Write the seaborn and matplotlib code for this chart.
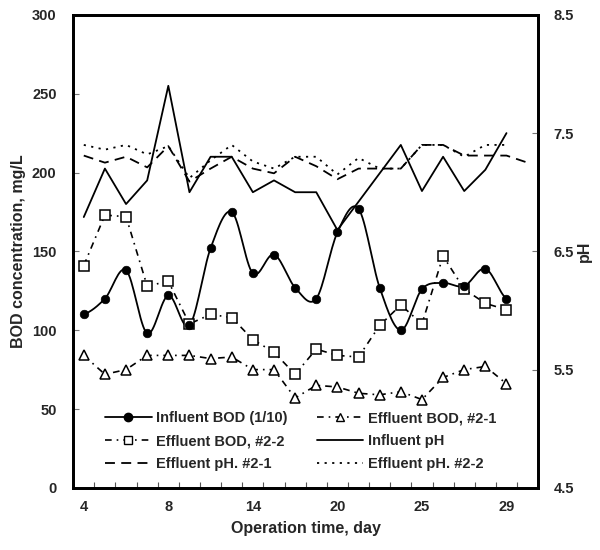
import numpy as np
import pandas as pd
import matplotlib
matplotlib.use('Agg')
import matplotlib.pyplot as plt
from matplotlib.lines import Line2D
import seaborn as sns

# tick labels on the category axis (every 4th sampling)
day_labels = ['4', '8', '14', '20', '25', '29']

influent_bod = [110, 120, 138, 98, 122, 103, 152, 175, 136, 148, 127,
                120, 162, 177, 127, 100, 126, 130, 128, 139, 120]
eff_bod_21 = [84, 72, 75, 84, 84, 84, 82, 83, 75, 75, 57,
              65, 64, 60, 59, 61, 56, 70, 75, 77, 66]
eff_bod_22 = [141, 173, 172, 128, 131, 104, 110, 108, 94, 86, 72,
              88, 84, 83, 103, 116, 104, 147, 126, 117, 113]
influent_ph = [6.79, 7.20, 6.90, 7.10, 7.90, 7.00, 7.30, 7.30, 7.00, 7.10, 7.00,
               7.00, 6.68, 6.92, 7.16, 7.40, 7.01, 7.30, 7.01, 7.19, 7.50]
eff_ph_21 = [7.31, 7.25, 7.30, 7.21, 7.39, 7.09, 7.20, 7.30, 7.20, 7.16, 7.30,
             7.22, 7.11, 7.20, 7.20, 7.20, 7.40, 7.40, 7.31, 7.31, 7.31, 7.25]
eff_ph_22 = [7.40, 7.36, 7.40, 7.32, 7.39, 7.12, 7.27, 7.40, 7.26, 7.20, 7.30,
             7.30, 7.15, 7.29, 7.20, 7.20, 7.40, 7.40, 7.30, 7.40, 7.40]

sns.set_theme(style='white')
plt.rcParams['font.family'] = ['Liberation Sans', 'DejaVu Sans']
plt.rcParams['font.weight'] = 'bold'
plt.rcParams['axes.labelweight'] = 'bold'


def smooth(y, n=16):
    # catmull-rom curve through the points, like a smoothed excel line
    p = np.asarray(y, float)
    x = np.arange(len(p), dtype=float)
    xs, ys = [], []
    for i in range(len(p) - 1):
        p0 = p[max(i - 1, 0)]
        p1, p2 = p[i], p[i + 1]
        p3 = p[min(i + 2, len(p) - 1)]
        t = np.linspace(0, 1, n, endpoint=False)
        ys.append(0.5 * (2 * p1 + (-p0 + p2) * t + (2 * p0 - 5 * p1 + 4 * p2 - p3) * t ** 2
                         + (-p0 + 3 * p1 - 3 * p2 + p3) * t ** 3))
        xs.append(x[i] + t)
    xs.append([x[-1]])
    ys.append([p[-1]])
    return np.concatenate(xs), np.concatenate(ys)


BOD_DASH = (4, 3, 1, 3)
PH21_DASH = (5.5, 3.5)
PH22_DASH = (1.2, 3)

fig = plt.figure(figsize=(6, 5.5), dpi=100)
ax = fig.add_axes([0.122, 0.113, 0.775, 0.86])
ax2 = ax.twinx()

idx = np.arange(len(influent_bod))
bod = pd.DataFrame({'i': idx, 'inf': influent_bod, 'e21': eff_bod_21, 'e22': eff_bod_22})

sx, sy = smooth(influent_bod)
sns.lineplot(x=sx, y=sy, ax=ax, color='black', lw=1.3, sort=False)
sns.scatterplot(data=bod, x='i', y='inf', ax=ax, color='black', s=38, edgecolor='black', zorder=4)

ax.plot(bod['i'], bod['e22'], color='black', lw=1.2, dashes=BOD_DASH,
        marker='s', ms=6.5, mfc='white', mec='black', mew=1.1)
ax.plot(bod['i'], bod['e21'], color='black', lw=1.2, dashes=BOD_DASH,
        marker='^', ms=7, mfc='white', mec='black', mew=1.1)

sns.lineplot(x=np.arange(len(influent_ph)), y=influent_ph, ax=ax2, color='black', lw=1.3)
ax2.plot(np.arange(len(eff_ph_21)), eff_ph_21, color='black', lw=1.3, dashes=PH21_DASH)
ax2.plot(np.arange(len(eff_ph_22)), eff_ph_22, color='black', lw=1.3, dashes=PH22_DASH)

ax.set_xlim(-0.5, 21.5)
ax.set_ylim(0, 300)
ax.set_yticks(range(0, 301, 50))
ax2.set_ylim(4.5, 8.5)
ax2.set_yticks([4.5, 5.5, 6.5, 7.5, 8.5])
ax.set_xticks(range(0, 21, 4))
ax.set_xticklabels(day_labels)
ax.set_xticks(np.arange(-0.5, 21.6, 1), minor=True)

ax.tick_params(axis='x', which='major', length=0, pad=9, labelsize=10.5)
ax.tick_params(axis='x', which='minor', length=4, width=0.8, direction='in', bottom=True, color='#555555')
ax.tick_params(axis='y', length=4, width=0.8, direction='in', left=True, pad=12, labelsize=10.5, color='#777777')
ax2.tick_params(axis='y', length=4, width=0.8, direction='in', right=True, pad=11, labelsize=10.5, color='#777777')

for a in (ax, ax2):
    for s in a.spines.values():
        s.set_linewidth(2)
        s.set_color('black')

ax.set_xlabel('Operation time, day', fontsize=11.5, labelpad=5)
ax.set_ylabel('BOD concentration, mg/L', fontsize=11.5, labelpad=4)
ax2.set_ylabel('pH', fontsize=11.5, labelpad=2)

handles = [
    Line2D([], [], color='black', lw=1.3, marker='o', ms=6),
    Line2D([], [], color='black', lw=1.2, dashes=BOD_DASH, marker='s', ms=5.5, mfc='white', mew=1.0),
    Line2D([], [], color='black', lw=1.3, dashes=PH21_DASH),
    Line2D([], [], color='black', lw=1.2, dashes=BOD_DASH, marker='^', ms=6, mfc='white', mew=1.0),
    Line2D([], [], color='black', lw=1.3),
    Line2D([], [], color='black', lw=1.3, dashes=PH22_DASH),
]
labels = ['Influent BOD (1/10)', 'Effluent BOD, #2-2', 'Effluent pH. #2-1',
          'Effluent BOD, #2-1', 'Influent pH', 'Effluent pH. #2-2']
ax2.legend(handles, labels, ncol=2, loc='lower left', bbox_to_anchor=(0.04, 0.007),
           frameon=False, handlelength=3.2, handletextpad=0.3, columnspacing=2.0,
           labelspacing=0.62, prop={'size': 10.5, 'weight': 'bold'})

fig.savefig('out.png', dpi=100)
